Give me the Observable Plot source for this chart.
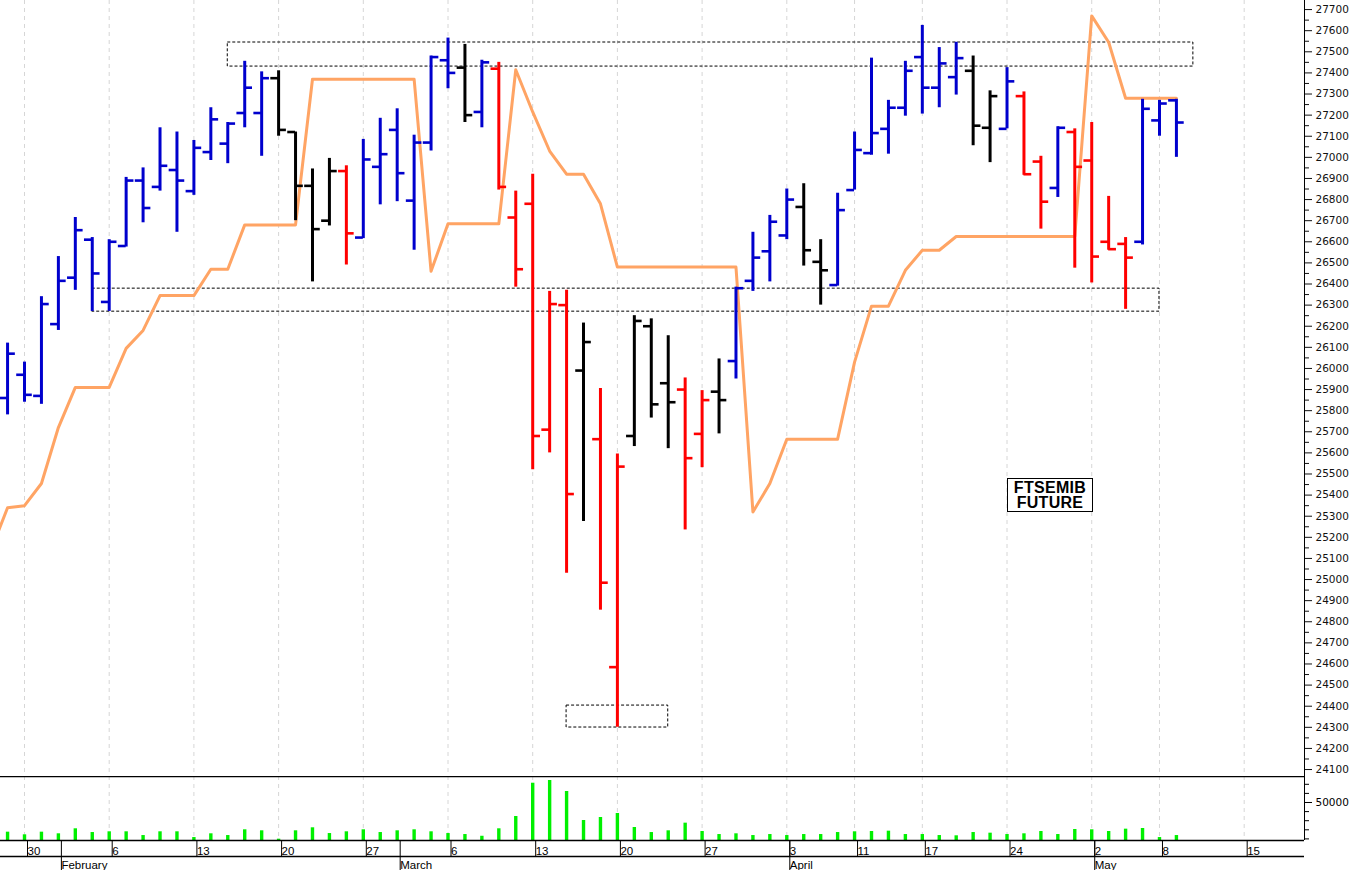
<!DOCTYPE html>
<html>
<head>
<meta charset="utf-8">
<script src="https://cdn.jsdelivr.net/npm/d3@7"></script>
<script src="https://cdn.jsdelivr.net/npm/@observablehq/plot@0.6"></script>
<style>
  html, body { margin: 0; padding: 0; background: #fff; }
  #wrap { position: relative; width: 1352px; height: 870px; overflow: hidden; background: #fff; }
  #wrap svg { display: block; }
  #tag {
    position: absolute; left: 1007px; top: 478px; width: 84px; height: 31px;
    border: 1px solid #000; background: #fff;
    font: bold 16px "Liberation Sans", Arial, sans-serif; line-height: 15px;
    text-align: center; letter-spacing: 0.3px; color: #000; padding-top: 1px; box-sizing: content-box;
  }
</style>
</head>
<body>
<div id="wrap"><div id="tag">FTSEMIB<br>FUTURE</div></div>
<script>
// ---------- DATA ----------
const holidays = ["2023-04-07", "2023-04-10", "2023-05-01"];
const firstBar = "2023-01-27";
const stopStart = "2023-01-26";

const open = [25860,25970,25870,26210,26430,26610,26315,26580,26890,26860,26940,26840,27025,27065,27210,27210,27375,27120,26865,26700,26935,26620,26955,27130,26795,27070,27460,27425,27215,27420,26715,26780,25710,26300,25990,25665,24585,25680,26200,25930,25900,25690,25890,26035,26415,26555,26630,26765,26505,26395,26845,27020,27135,27235,27475,27330,27380,27410,27140,27135,27290,26980,26855,27120,26985,26600,26590,26600,27175,27270];
const high = [26120,26030,26340,26530,26715,26620,26610,26905,26950,27140,27120,27080,27235,27165,27455,27405,27410,27120,26945,26995,26960,27085,27185,27230,27105,27480,27565,27535,27460,27450,26840,26920,26365,26370,26215,25905,25595,26250,26235,26155,25955,25895,26045,26385,26645,26725,26850,26875,26610,26830,27120,27470,27270,27455,27625,27520,27545,27480,27315,27425,27310,27005,27145,27135,27165,26815,26620,27275,27270,27275];
const low = [25780,25840,25830,26180,26370,26270,26270,26575,26690,26840,26645,26820,26985,26970,27140,27005,27100,26700,26410,26675,26490,26615,26775,26790,26560,27030,27325,27165,27140,26845,26385,25520,25600,25030,25275,24855,24300,25630,25765,25620,25235,25530,25690,25950,26365,26410,26610,26485,26300,26390,26845,27010,27015,27195,27205,27235,27295,27055,26975,27135,26915,26660,26810,26475,26405,26560,26280,26585,27100,27000];
const close = [26070,25875,26305,26415,26655,26450,26600,26890,26760,26960,26890,27045,27180,27160,27330,27375,27130,26865,26660,26935,26640,26990,27015,26925,27070,27475,27400,27200,27450,26860,26470,25680,26305,25405,26125,24985,25535,26225,25830,25840,25575,25850,25850,26380,26525,26695,26800,26560,26465,26750,27035,27115,27235,27410,27330,27445,27470,27150,27290,27360,26920,26790,27140,26955,26530,26565,26525,27230,27255,27165];
// b = blue, k = black, r = red
const barColor = "bbbbbbbbbbbbbbbbkkkkrbbbbbbkbrrrrrkrrkkkrrkbbbbkkbbbbbbbbkkbrrbrrrrbbb".split("");
const volume = [17400,14500,17400,15600,21100,17000,17800,17800,13700,17800,17800,11500,15600,13700,20000,18900,9700,18900,22200,15900,17800,20000,17000,18900,20000,17800,15900,14800,12900,21100,34600,71200,74200,62100,30200,33500,37900,22500,17000,18900,27300,18100,14800,15600,13700,14800,13700,14800,14800,17000,17800,18100,18500,14800,14800,13700,13400,17000,16300,14800,15600,18100,14800,20300,20000,18100,20700,21400,11500,13700];
// trailing stop line, one value per day starting stopStart
const stopLine = [25135,25340,25350,25455,25720,25910,25910,25910,26095,26180,26345,26345,26345,26470,26470,26680,26680,26680,26680,27370,27370,27370,27370,27370,27370,27370,26460,26685,26685,26685,26685,27415,27215,27030,26920,26920,26780,26480,26480,26480,26480,26480,26480,26480,26480,25320,25455,25665,25665,25665,25665,26030,26295,26295,26465,26560,26560,26625,26625,26625,26625,26625,26625,26625,26625,27670,27545,27280,27280,27280,27280];

const dayTicks = ["2023-01-30","2023-02-06","2023-02-13","2023-02-20","2023-02-27","2023-03-06","2023-03-13","2023-03-20","2023-03-27","2023-04-03","2023-04-11","2023-04-17","2023-04-24","2023-05-02","2023-05-08","2023-05-15"];
const monthStarts = ["2023-02-01","2023-03-01","2023-04-03","2023-05-02"];
const monthNames = ["February","March","April","May"];
const priceTicks = d3.range(24100, 27701, 100);
const volumeTicks = [50000];

// dashed annotation boxes: [from day, to day, low price, high price]
const boxes = [
  {from: "2023-02-15", to: "2023-05-10", lo: 27430, hi: 27544},
  {from: "2023-02-03", to: "2023-05-08", lo: 26269, hi: 26378},
  {from: "2023-03-15", to: "2023-03-23", lo: 24299, hi: 24403}
];

// ---------- CALENDAR ----------
const fmt = d3.timeFormat("%Y-%m-%d");
const days = d3.timeDay.range(new Date(2023, 0, 26), new Date(2023, 4, 20))
  .filter(d => d.getDay() !== 0 && d.getDay() !== 6)
  .map(fmt).filter(s => !holidays.includes(s));
const pos = new Map(days.map((s, i) => [s, i]));
const i0 = pos.get(firstBar);
const colorMap = {b: "#0000CD", k: "#000000", r: "#FF0000"};

const bars = open.map((o, k) => ({
  i: i0 + k, open: o, high: high[k], low: low[k], close: close[k],
  color: colorMap[barColor[k]], vol: volume[k]
}));
const stopData = stopLine.map((v, k) => ({i: pos.get(stopStart) + k, v}));
const dayTickIdx = dayTicks.map(s => pos.get(s));
const dayLabel = new Map(dayTicks.map(s => [pos.get(s), String(+s.slice(8))]));
const monthIdx = monthStarts.map(s => pos.get(s));
const monthLabel = new Map(monthStarts.map((s, k) => [pos.get(s), monthNames[k]]));
const boxData = boxes.map(b => ({x1: pos.get(b.from), x2: pos.get(b.to), y1: b.lo, y2: b.hi}));

// ---------- LAYOUT ----------
const W = 1352, plotRight = 48;
const pxPerDay = 16.94;
const ref = pos.get("2023-01-30");
const xDomain = [ref - 24 / pxPerDay, ref + (W - plotRight - 24) / pxPerDay];
const half = 0.46;
const grid = {stroke: "#d6d6d6", strokeDasharray: "4,4", strokeWidth: 1};
const axisFont = {fontFamily: "DejaVu Sans, sans-serif", fontSize: "10.5px"};
const dateFont = {fontFamily: "Liberation Sans, Arial, sans-serif", fontSize: "11.5px"};

const price = Plot.plot({
  width: W, height: 776,
  marginLeft: 0, marginRight: plotRight, marginTop: 0, marginBottom: 0,
  x: {type: "linear", domain: xDomain, axis: null},
  y: {domain: [24067, 27743], axis: null},
  style: {background: "white", color: "#111", ...axisFont},
  marks: [
    Plot.ruleX(dayTickIdx, grid),
    Plot.rect(boxData, {x1: "x1", x2: "x2", y1: "y1", y2: "y2", fill: "none", stroke: "#000", strokeWidth: 1, strokeDasharray: "3,2"}),
    Plot.line(stopData, {x: "i", y: "v", stroke: "#FFA464", strokeWidth: 3, clip: true}),
    Plot.ruleX(bars, {x: "i", y1: "low", y2: "high", stroke: "color", strokeWidth: 3}),
    Plot.ruleY(bars, {y: "open", x1: d => d.i - half, x2: "i", stroke: "color", strokeWidth: 2.6}),
    Plot.ruleY(bars, {y: "close", x1: "i", x2: d => d.i + half, stroke: "color", strokeWidth: 2.6}),
    Plot.ruleX([xDomain[1]], {stroke: "#000", strokeWidth: 1}),
    Plot.axisY({anchor: "right", label: null, ticks: priceTicks, tickSize: 7, tickPadding: 4, tickFormat: d => String(d), ...axisFont}),
    Plot.axisY({anchor: "right", label: null, ticks: priceTicks.map(t => t + 50).filter(t => t < 27740), tickSize: 4, tickFormat: () => ""})
  ]
});

const vDomain = [8240, 78570];
const vol = Plot.plot({
  width: W, height: 94,
  marginLeft: 0, marginRight: plotRight, marginTop: 0, marginBottom: 30,
  x: {type: "linear", domain: xDomain, axis: null},
  y: {domain: vDomain, axis: null},
  style: {background: "white", color: "#000", ...axisFont},
  marks: [
    Plot.ruleX(dayTickIdx, grid),
    Plot.ruleX(bars, {x: "i", y1: vDomain[0], y2: "vol", stroke: "#00F000", strokeWidth: 3.4}),
    Plot.ruleY([vDomain[1]], {stroke: "#000", strokeWidth: 1.3}),
    Plot.ruleY([vDomain[0]], {stroke: "#000", strokeWidth: 1.3}),
    Plot.ruleY([vDomain[0]], {stroke: "#000", strokeWidth: 1.3, dy: 16}),
    Plot.ruleX([xDomain[1]], {stroke: "#000", strokeWidth: 1}),
    Plot.axisX({ticks: dayTickIdx, label: null, tickSize: 16, tickPadding: -10, tickFormat: i => dayLabel.get(i), textAnchor: "start", dx: 3, ...dateFont}),
    Plot.axisX({ticks: monthIdx, label: null, tickSize: 30, tickPadding: -10, tickFormat: i => monthLabel.get(i), textAnchor: "start", dx: 3, ...dateFont}),
    Plot.axisY({anchor: "right", label: null, ticks: volumeTicks, tickSize: 7, tickPadding: 4, tickFormat: d => String(d), ...axisFont}),
    Plot.axisY({anchor: "right", label: null, ticks: d3.range(10000, 78000, 10000).filter(t => t !== 50000), tickSize: 4, tickFormat: () => ""})
  ]
});

const wrap = document.getElementById("wrap");
wrap.insertBefore(vol, wrap.firstChild);
wrap.insertBefore(price, vol);
</script>
</body>
</html>
